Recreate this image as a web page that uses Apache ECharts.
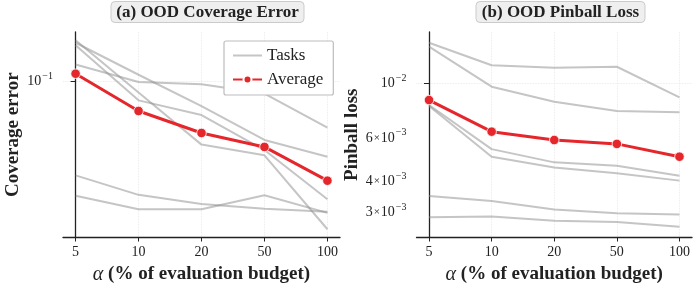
<!DOCTYPE html>
<html><head><meta charset="utf-8">
<script src="https://cdn.jsdelivr.net/npm/echarts@6/dist/echarts.min.js"></script>
<style>html,body{margin:0;padding:0;background:#fff}#c{width:697px;height:291px}</style>
</head><body><div id="c"></div>
<script>
// ---- data ----
const categories = ['5', '10', '20', '50', '100'];

// (a) OOD Coverage Error (log scale)
const covTask1 = [0.1236, 0.0994, 0.0966, 0.0861, 0.0563];
const covTask2 = [0.162, 0.1088, 0.0737, 0.0483, 0.0392];
const covTask3 = [0.157, 0.0791, 0.0659, 0.0426, 0.0231];
const covTask4 = [0.167, 0.0872, 0.0456, 0.0399, 0.0159];
const covTask5 = [0.0311, 0.0244, 0.0218, 0.0205, 0.0198];
const covTask6 = [0.0241, 0.0204, 0.0204, 0.0243, 0.0195];
const covAverage = [0.1102, 0.0693, 0.0527, 0.0443, 0.0291];
const covTicks = [0.1];

// (b) OOD Pinball Loss (log scale)
const pinTask1 = [0.01462, 0.01184, 0.01157, 0.01168, 0.00877];
const pinTask2 = [0.01409, 0.00969, 0.00842, 0.00772, 0.00762];
const pinTask3 = [0.00816, 0.0054, 0.00477, 0.00462, 0.00421];
const pinTask4 = [0.00809, 0.00503, 0.00455, 0.00431, 0.00402];
const pinTask5 = [0.00348, 0.00332, 0.00307, 0.00296, 0.00293];
const pinTask6 = [0.00285, 0.00287, 0.00276, 0.00273, 0.00261];
const pinAverage = [0.00855, 0.00636, 0.00588, 0.00567, 0.00503];
const pinTickLabels = [0.01, 0.006, 0.004, 0.003];
const pinMajorTicks = [0.01];

// ---- chart ----
const FONT = 'Liberation Serif';
const TXT = '#222';
const GRAY = 'rgba(140,140,140,0.5)';
const RED = '#e5262b';
const xIdx = categories.map((c, i) => i);
const pairs = vals => vals.map((v, i) => [i, v]);

function supLabel(v) {
  const e = Math.floor(Math.log10(v) + 1e-9);
  const m = Math.round(v / Math.pow(10, e));
  const exp = '{s|\u2212' + Math.abs(e) + '}';
  if (m === 1) return '{b|10}' + exp;
  return '{b|' + m + '}{x|\u00d7}{b|10}' + exp;
}
const richLbl = {
  b: {fontFamily: FONT, fontSize: 14, color: TXT},
  x: {fontFamily: FONT, fontSize: 11, color: TXT, padding: [0, 1, 0, 1]},
  s: {fontFamily: FONT, fontSize: 10, color: TXT, padding: [0, 0, 10, 1]}
};

function xAxis(gi) {
  return {
    type: 'value', gridIndex: gi, min: -0.2, max: 4.2,
    axisLine: {show: true, lineStyle: {color: TXT, width: 1.3}},
    axisTick: {show: true, customValues: xIdx, length: 4, lineStyle: {color: TXT, width: 1}},
    axisLabel: {customValues: xIdx, formatter: v => categories[Math.round(v)], fontFamily: FONT, fontSize: 14, color: TXT, margin: 8},
    splitLine: {show: true, lineStyle: {type: 'dotted', color: '#e6e6e6', width: 0.8}},
    name: '{a|\u03b1}{t| (% of evaluation budget)}',
    nameLocation: 'middle', nameGap: 26,
    nameTextStyle: {rich: {
      a: {fontFamily: FONT, fontSize: 20, fontStyle: 'italic', color: TXT},
      t: {fontFamily: FONT, fontSize: 19, fontWeight: 'bold', color: TXT}
    }}
  };
}
function yAxis(gi, min, max, labels, ticks, name, gap) {
  return {
    type: 'log', logBase: 10, gridIndex: gi, min: min, max: max,
    axisLine: {show: true, lineStyle: {color: TXT, width: 1.3}},
    axisTick: {show: true, customValues: ticks, length: 5, lineStyle: {color: TXT, width: 1}},
    axisLabel: {customValues: labels, formatter: v => supLabel(v), rich: richLbl, margin: 10},
    splitLine: {show: true, lineStyle: {type: 'dotted', color: '#e6e6e6', width: 0.8}},
    name: name, nameLocation: 'middle', nameGap: gap,
    nameTextStyle: {fontFamily: FONT, fontSize: 19, fontWeight: 'bold', color: TXT}
  };
}
function taskSeries(vals, gi) {
  return {name: 'Tasks', type: 'line', xAxisIndex: gi, yAxisIndex: gi, data: pairs(vals),
    symbol: 'none', lineStyle: {color: GRAY, width: 2}, itemStyle: {color: GRAY}, z: 2};
}
function avgSeries(vals, gi) {
  return {name: 'Average', type: 'line', xAxisIndex: gi, yAxisIndex: gi, data: pairs(vals),
    symbol: 'circle', symbolSize: 9.5, lineStyle: {color: RED, width: 3},
    itemStyle: {color: RED, borderColor: '#fff', borderWidth: 0.8}, z: 5};
}
const titleStyle = {
  textStyle: {fontFamily: FONT, fontSize: 17, fontWeight: 'bold', color: TXT},
  backgroundColor: '#efefef', borderColor: '#cbcbcb', borderWidth: 1, borderRadius: 4,
  padding: [3, 6, 2, 6], top: 1, textAlign: 'center'
};

const chart = echarts.init(document.getElementById('c'), null, {renderer: 'canvas'});
chart.setOption({
  animation: false,
  backgroundColor: '#fff',
  title: [
    Object.assign({text: '(a) OOD Coverage Error', left: 201.5}, titleStyle),
    Object.assign({text: '(b) OOD Pinball Loss', left: 554.5}, titleStyle)
  ],
  legend: {
    data: [{name: 'Tasks', itemStyle: {opacity: 0}}, {name: 'Average'}],
    orient: 'vertical', left: 224, top: 41,
    backgroundColor: '#fff', borderColor: '#bdbdbd', borderWidth: 1.2, borderRadius: 2,
    padding: [6, 10, 7, 8], itemGap: 7, itemWidth: 29, itemHeight: 10,
    textStyle: {fontFamily: FONT, fontSize: 17, color: TXT}
  },
  grid: [
    {left: 63, top: 32, width: 277, height: 205.5},
    {left: 416.5, top: 32, width: 275.5, height: 205.5}
  ],
  xAxis: [xAxis(0), xAxis(1)],
  yAxis: [
    yAxis(0, 0.01435, 0.1852, covTicks, covTicks, 'Coverage error', 40),
    yAxis(1, 0.00236, 0.01617, pinTickLabels, pinMajorTicks, 'Pinball loss', 54)
  ],
  series: [
    taskSeries(covTask1, 0), taskSeries(covTask2, 0), taskSeries(covTask3, 0),
    taskSeries(covTask4, 0), taskSeries(covTask5, 0), taskSeries(covTask6, 0),
    avgSeries(covAverage, 0),
    taskSeries(pinTask1, 1), taskSeries(pinTask2, 1), taskSeries(pinTask3, 1),
    taskSeries(pinTask4, 1), taskSeries(pinTask5, 1), taskSeries(pinTask6, 1),
    avgSeries(pinAverage, 1)
  ]
});
</script>
</body></html>
